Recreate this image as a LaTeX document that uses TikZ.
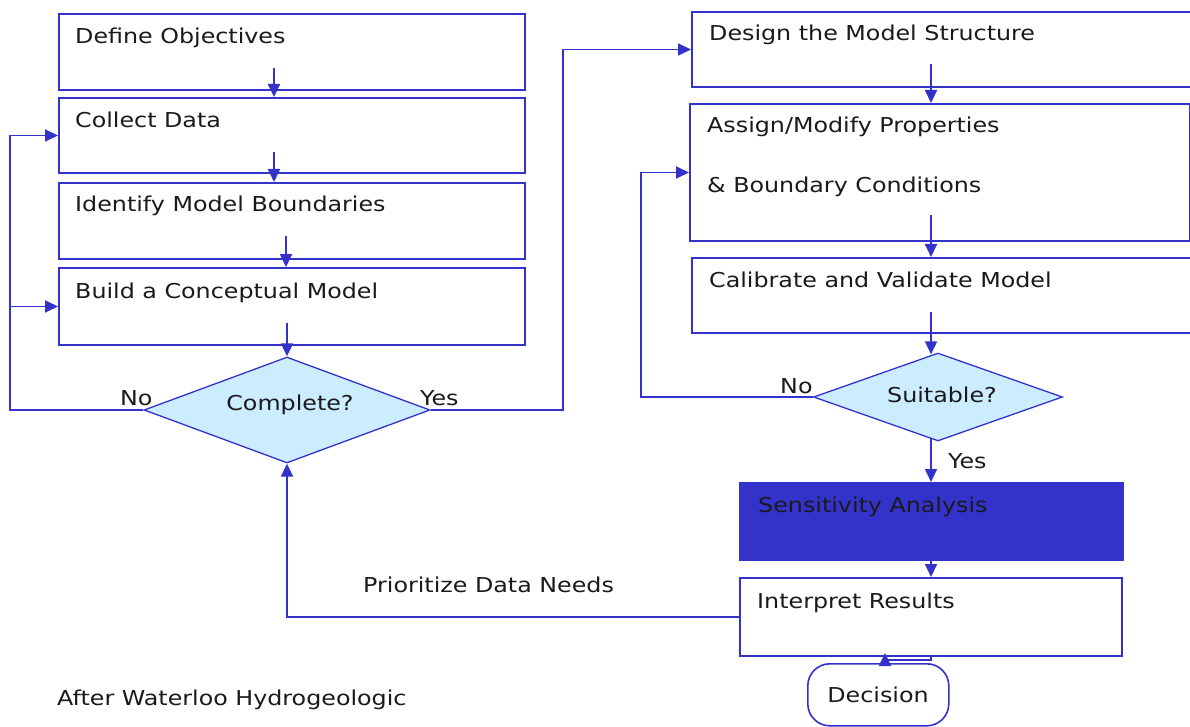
\documentclass[tikz,border=0pt]{standalone}
\usepackage{fontspec}
\setmainfont{DejaVu Sans}[FakeStretch=1.16]
\usetikzlibrary{arrows.meta,shapes.geometric,backgrounds,calc}
\definecolor{ln}{HTML}{3333CC}
\definecolor{dfill}{HTML}{CCECFF}
\definecolor{txtc}{HTML}{1A1A1A}
\begin{document}
\begin{tikzpicture}[x=1pt,y=-1pt,
  box/.style={draw=ln, line width=2pt, rectangle, inner sep=0pt, anchor=north west},
  dia/.style={draw=ln, fill=dfill, diamond, inner sep=0pt, line width=1.3pt},
  conn/.style={draw=ln, line width=1.8pt, -{Triangle[length=13pt,width=12pt]}},
  txt/.style={text=txtc, font=\fontsize{20.5}{24}\selectfont, inner sep=0pt, anchor=base west},
]
\useasboundingbox (0,0) rectangle (1190,727);
\clip (0,0) rectangle (1190,727);

% left column boxes
\node[box, minimum width=466pt, minimum height=76pt] (b1) at (58,13) {};
\node[box, minimum width=466pt, minimum height=75pt] (b2) at (58,97) {};
\node[box, minimum width=466pt, minimum height=76pt] (b3) at (58,182) {};
\node[box, minimum width=466pt, minimum height=77pt] (b4) at (58,267) {};
% right column boxes
\node[box, minimum width=520pt, minimum height=75pt] (b5) at (691,11) {};
\node[box, minimum width=500pt, minimum height=137pt] (b6) at (689,103) {};
\node[box, minimum width=520pt, minimum height=75pt] (b7) at (691,257) {};
\node[box, fill=ln, minimum width=383pt, minimum height=77pt] (b8) at (739,482) {};
\node[box, minimum width=382pt, minimum height=78pt] (b9) at (739,577) {};
\node[box, rounded corners=22pt, line width=1.6pt, minimum width=141pt, minimum height=62pt] (dn) at (807,663) {};
% diamonds
\node[dia, minimum width=286pt, minimum height=106pt] (d1) at (287,410) {};
\node[dia, minimum width=249pt, minimum height=88pt] (d2) at (938,397) {};

% texts
\node[txt] (t1) at (75,44) {Define Objectives};
\node[txt] (t2) at (75,128) {Collect Data};
\node[txt] (t3) at (75,212) {Identify Model Boundaries};
\node[txt] (t4) at (75,298) {Build a Conceptual Model};
\node[txt] (t5) at (709,41) {Design the Model Structure};
\node[txt] (t6a) at (707,133) {Assign/Modify Properties};
\node[txt] (t6b) at (707,193) {\& Boundary Conditions};
\node[txt] (t7) at (709,287) {Calibrate and Validate Model};
\node[txt, anchor=base] (tc) at (290,410) {Complete?};
\node[txt] (tno1) at (120,405) {No};
\node[txt] (tyes1) at (420,405) {Yes};
\node[txt, anchor=base] (ts) at (942,402) {Suitable?};
\node[txt] (tno2) at (780,393) {No};
\node[txt] (tyes2) at (948,468) {Yes};
\node[txt] (t8) at (758,512) {Sensitivity Analysis};
\node[txt] (t9) at (757,608) {Interpret Results};
\node[txt, anchor=base] (tdec) at (878,702) {Decision};
\node[txt] (tpr) at (363,592) {Prioritize Data Needs};
\node[txt] (taf) at (57,705) {After Waterloo Hydrogeologic};

% helper coordinates
\coordinate (lx) at (10,0);
\coordinate (yx) at (563,0);
\coordinate (px) at (641,0);
\coordinate (rx) at (931,0);
\coordinate (dk) at (885,660);

% left column connectors
\draw[conn] ($(b1.south)+(-18,-23)$) -- ($(b2.north)+(-18,0)$);
\draw[conn] ($(b2.south)+(-18,-22)$) -- ($(b3.north)+(-18,0)$);
\draw[conn] ($(b3.south)+(-6,-24)$) -- ($(b4.north)+(-6,0)$);
\draw[conn] ($(b4.south)+(-5,-23)$) -- (d1.north);
\draw[conn] (d1.west) -- (d1.west -| lx) |- (b2.west);
\draw[conn] (b4.west -| lx) -- (b4.west);
\draw[conn] (d1.east) -- (d1.east -| yx) |- (b5.west);
% right column connectors
\draw[conn] ($(b5.south -| rx)+(0,-24)$) -- (b6.north -| rx);
\draw[conn] ($(b6.south -| rx)+(0,-27)$) -- (b7.north -| rx);
\draw[conn] ($(b7.south -| rx)+(0,-22)$) -- ($(d2.north -| rx)+(0,2)$);
\draw[conn] (d2.west) -- (d2.west -| px) |- (b6.west);
\begin{scope}[on background layer]
\fill[white] (0,0) rectangle (1190,727);
\draw[conn] (d2.center -| rx) -- (b8.north -| rx);
\end{scope}
\draw[conn] (b8.south -| rx) -- (b9.north -| rx);
\draw[conn] (b9.south -| rx) |- (dk) -- ($(b9.south -| dk)+(0,-4)$);
\draw[conn] (b9.west) -| (d1.south);
\end{tikzpicture}
\end{document}
